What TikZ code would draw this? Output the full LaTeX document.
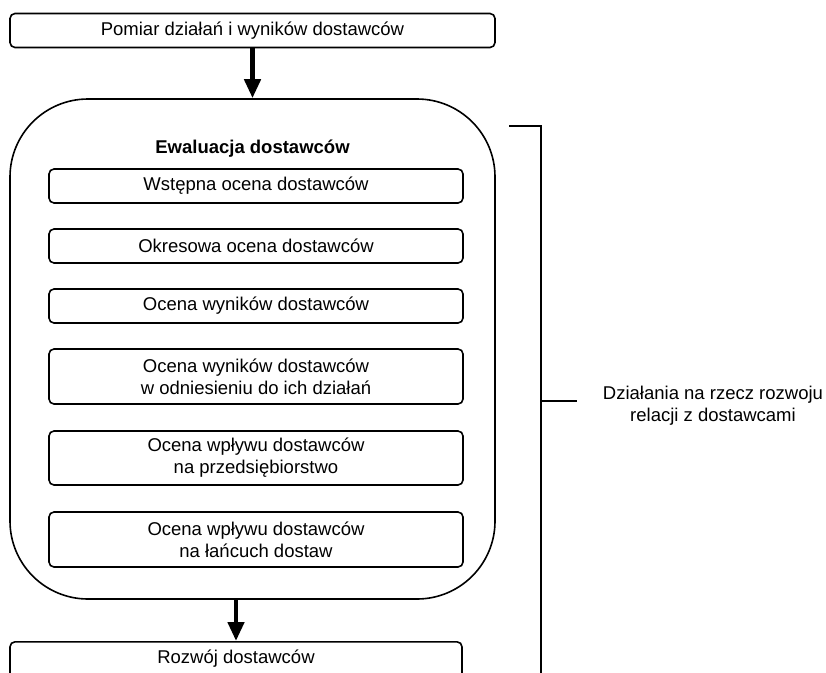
\documentclass[tikz,border=0pt]{standalone}
\usepackage{fontspec}
\setmainfont{Liberation Sans}
\usetikzlibrary{arrows.meta}
\begin{document}
\begin{tikzpicture}[x=1pt,y=-1pt,
  every node/.style={font=\fontsize{18.5}{22}\selectfont, align=center, inner sep=0pt},
  box/.style={draw, line width=1.6pt, rounded corners=5pt, minimum height=34pt},
  frame/.style={draw, line width=1.6pt, rounded corners=78pt},
  flow/.style={line width=4.5pt, -{Triangle[length=19pt,width=16pt]}},
  brace/.style={line width=1.6pt}]
  \useasboundingbox (0,0) rectangle (826,672);
  \begin{scope}
  \clip (0,0) rectangle (826,672);
  % upper box
  \node[box, minimum width=485pt] (pomiar) at (252.5,30.5) {Pomiar działań i wyników dostawców};
  % evaluation frame
  \node[frame, minimum width=485pt, minimum height=500pt] (ewal) at (252.5,349) {};
  \node[font=\fontsize{18.5}{22}\selectfont\bfseries] (tytul) at (252.5,149) {Ewaluacja dostawców};
  \node[box, minimum width=414pt] (e1) at (256,186) {Wstępna ocena dostawców};
  \node[box, minimum width=414pt] (e2) at (256,246) {Okresowa ocena dostawców};
  \node[box, minimum width=414pt] (e3) at (256,306) {Ocena wyników dostawców};
  \node[box, minimum width=414pt, minimum height=55pt] (e4) at (256,376.5) {Ocena wyników dostawców\\w odniesieniu do ich działań};
  \node[box, minimum width=414pt, minimum height=54pt] (e5) at (256,458) {Ocena wpływu dostawców\\na przedsiębiorstwo};
  \node[box, minimum width=414pt, minimum height=55pt] (e6) at (256,539.5) {Ocena wpływu dostawców\\na łańcuch dostaw};
  % lower box
  \node[box, minimum width=452pt, minimum height=40pt, anchor=north] (rozwoj) at (236,641) {};
  \node (rozwojtxt) at (236,659) {Rozwój dostawców};
  % arrows
  \draw[flow] (pomiar.south) -- (ewal.north);
  \draw[flow] (ewal.south -| rozwoj.north) -- (rozwoj.north);
  % bracket
  \coordinate (b1) at (509,126);
  \coordinate (b2) at (541,126);
  \coordinate (b3) at (541,680);
  \coordinate (bm) at (541,401);
  \coordinate (bt) at (577,401);
  \draw[brace] (b1) -- (b2) -- (b3);
  \draw[brace] (bm) -- (bt);
  \node (opis) at (713,406) {Działania na rzecz rozwoju\\relacji z dostawcami};
  \end{scope}
\end{tikzpicture}
\end{document}
